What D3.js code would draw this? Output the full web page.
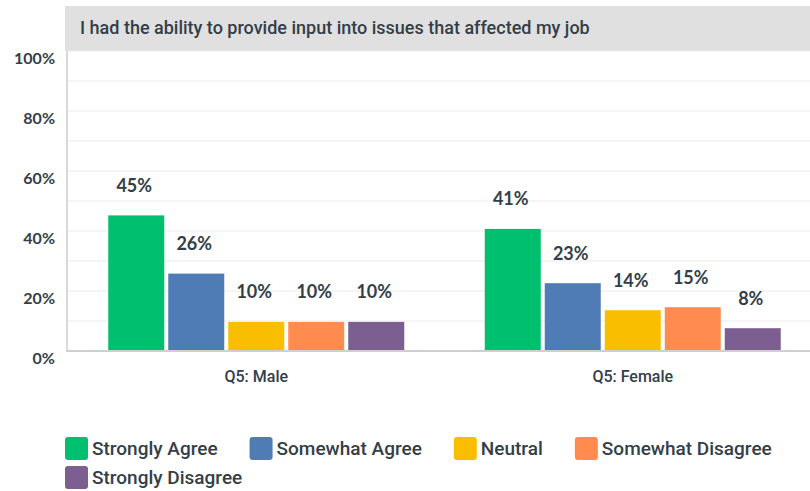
<!DOCTYPE html>
<html>
<head>
<meta charset="utf-8">
<script src="https://cdn.jsdelivr.net/npm/d3@7"></script>
<style>
  body { margin: 0; background: #fff; }
  svg { display: block; }
</style>
</head>
<body>
<svg id="chart"></svg>
<script>
// chart data
const title = 'I had the ability to provide input into issues that affected my job';
const groups = ['Q5: Male', 'Q5: Female'];
const series = ['Strongly Agree', 'Somewhat Agree', 'Neutral', 'Somewhat Disagree', 'Strongly Disagree'];
const maleValues = [45.2, 25.8, 9.7, 9.7, 9.7];
const femaleValues = [40.7, 22.6, 13.6, 14.6, 7.6];
const yTicks = [0, 20, 40, 60, 80, 100];
const colors = ['#00bf6f', '#507cb6', '#f9be00', '#ff8b4f', '#7d5e90'];

const width = 810, height = 491;
const textColor = '#333e48';

const data = groups.map((g, i) => ({
  group: g,
  values: series.map((s, j) => ({ key: s, value: [maleValues, femaleValues][i][j] }))
}));

const svg = d3.select('#chart')
    .attr('width', width)
    .attr('height', height);

const plot = { left: 67, right: 810, top: 51, bottom: 351 };

// scales
const yScale = d3.scaleLinear()
    .domain([0, 100])
    .range([plot.bottom, plot.top]);

const x0 = d3.scaleBand()
    .domain(groups)
    .range([68, 821]);

const x1 = d3.scaleBand()
    .domain(series)
    .range([0, 300])
    .paddingInner(4 / 60)
    .paddingOuter(2 / 60);

const color = d3.scaleOrdinal().domain(series).range(colors);

// title box
svg.append('rect')
    .attr('x', 65)
    .attr('y', 6)
    .attr('width', width - 65)
    .attr('height', 45)
    .attr('fill', '#e0e0e0');

svg.append('text')
    .attr('x', 80)
    .attr('y', 28)
    .attr('dy', '0.35em')
    .attr('fill', textColor)
    .style('font-family', 'Roboto, sans-serif')
    .style('font-weight', 500)
    .style('font-size', '18px')
    .text(title);

// gridlines every 10%
svg.append('g')
    .selectAll('line')
    .data(d3.range(10, 101, 10))
    .join('line')
    .attr('x1', plot.left)
    .attr('x2', plot.right)
    .attr('y1', d => yScale(d))
    .attr('y2', d => yScale(d))
    .attr('stroke', '#ebebeb')
    .attr('stroke-width', 1);

// y axis
const yAxis = d3.axisLeft(yScale)
    .tickValues(yTicks)
    .tickSize(0)
    .tickPadding(12)
    .tickFormat(d => d + '%');

const yAxisG = svg.append('g')
    .attr('transform', `translate(${plot.left},0)`)
    .call(yAxis);

yAxisG.select('.domain').remove();
yAxisG.selectAll('text')
    .attr('dy', '0.75em')
    .attr('fill', textColor)
    .style('font-family', 'Lato, sans-serif')
    .style('font-weight', 700)
    .style('font-size', '16px');

svg.append('line')
    .attr('x1', plot.left)
    .attr('x2', plot.left)
    .attr('y1', plot.top)
    .attr('y2', plot.bottom + 1)
    .attr('stroke', '#d9d9d9')
    .attr('stroke-width', 2);

// bars
const groupG = svg.append('g')
    .selectAll('g')
    .data(data)
    .join('g')
    .attr('transform', d => `translate(${x0(d.group) + x0.bandwidth() / 2 - 150},0)`);

groupG.selectAll('rect')
    .data(d => d.values)
    .join('rect')
    .attr('x', d => x1(d.key))
    .attr('y', d => yScale(d.value))
    .attr('width', x1.bandwidth())
    .attr('height', d => plot.bottom - yScale(d.value))
    .attr('fill', d => color(d.key));

groupG.selectAll('text')
    .data(d => d.values)
    .join('text')
    .attr('x', d => x1(d.key) + x1.bandwidth() / 2 - 2)
    .attr('y', d => yScale(d.value) - 30)
    .attr('dy', '0.35em')
    .attr('text-anchor', 'middle')
    .attr('fill', textColor)
    .style('font-family', 'Lato, sans-serif')
    .style('font-weight', 700)
    .style('font-size', '18px')
    .text(d => Math.round(d.value) + '%');

// baseline
svg.append('line')
    .attr('x1', plot.left)
    .attr('x2', plot.right)
    .attr('y1', plot.bottom)
    .attr('y2', plot.bottom)
    .attr('stroke', '#cfcfcf')
    .attr('stroke-width', 2);

// x axis labels
const xAxis = d3.axisBottom(x0).tickSize(0).tickPadding(20);
const xAxisG = svg.append('g')
    .attr('transform', `translate(0,${plot.bottom})`)
    .call(xAxis);
xAxisG.select('.domain').remove();
xAxisG.selectAll('text')
    .attr('fill', textColor)
    .style('font-family', 'Roboto, sans-serif')
    .style('font-weight', 500)
    .style('font-size', '16px');

// legend (flows and wraps)
const legend = svg.append('g');
let lx = 65, ly = 437;
series.forEach((s, i) => {
  const item = legend.append('g');
  item.append('rect')
      .attr('width', 23)
      .attr('height', 23)
      .attr('rx', 3)
      .attr('fill', color(s));
  const t = item.append('text')
      .attr('x', 27)
      .attr('y', 11.5)
      .attr('dy', '0.35em')
      .attr('fill', textColor)
      .style('font-family', 'Roboto, sans-serif')
      .style('font-weight', 500)
      .style('font-size', '19px')
      .text(s);
  const w = 27 + t.node().getComputedTextLength();
  if (lx + w > width && lx > 65) {
    lx = 65;
    ly += 29;
  }
  item.attr('transform', `translate(${lx},${ly})`);
  lx += w + 32;
});
</script>
</body>
</html>
